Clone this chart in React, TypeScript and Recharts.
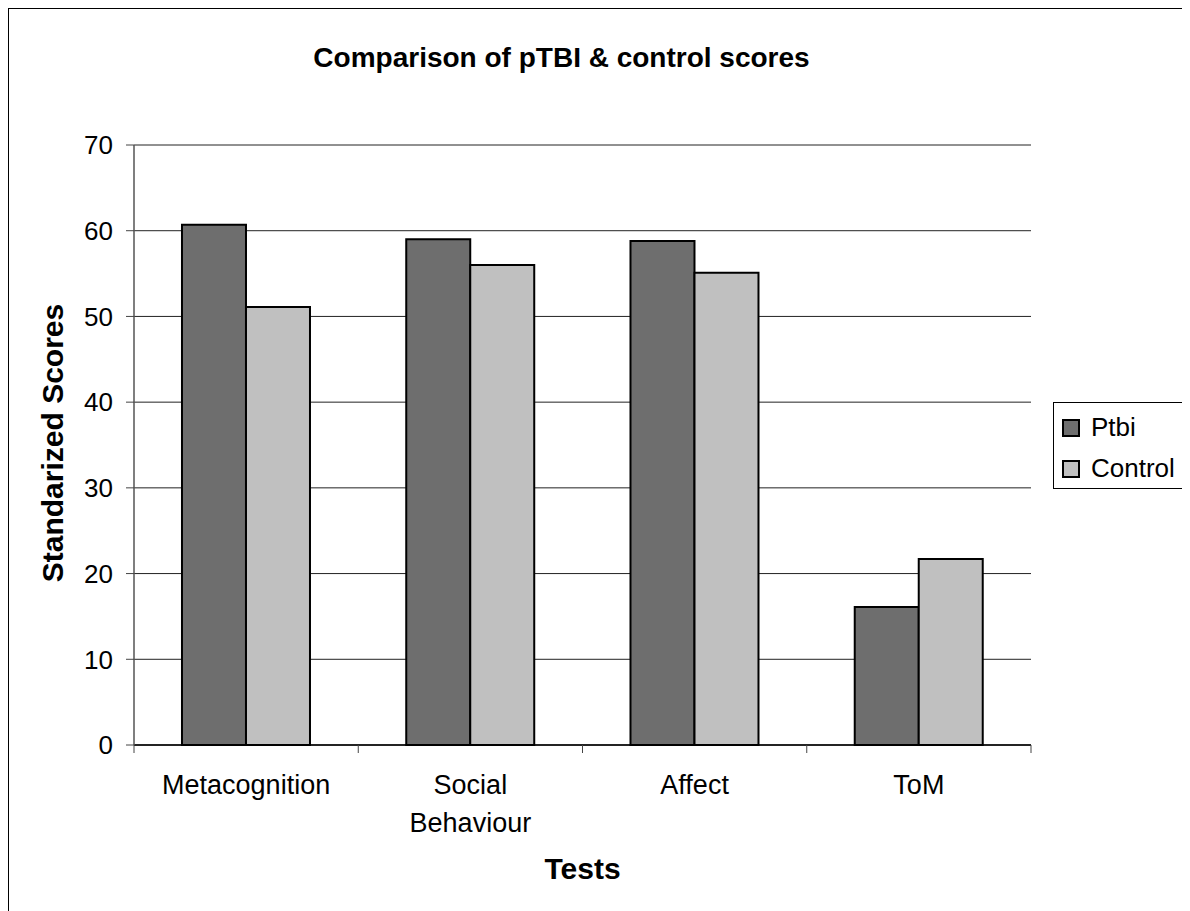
import React from "react";
import { BarChart, Bar, XAxis, YAxis, CartesianGrid } from "recharts";

const categories = ["Metacognition", "Social Behaviour", "Affect", "ToM"];
const ptbiScores = [60.7, 59.0, 58.8, 16.1];
const controlScores = [51.1, 56.0, 55.1, 21.7];
const yTicks = [0, 10, 20, 30, 40, 50, 60, 70];

const series = [
    { key: "ptbi", name: "Ptbi", color: "#6e6e6e" },
    { key: "control", name: "Control", color: "#c0c0c0" },
];

const data = categories.map((name, i) => ({
    name,
    ptbi: ptbiScores[i],
    control: controlScores[i],
}));

const FONT = "Arial, 'Liberation Sans', sans-serif";

function CategoryTick(props: any) {
    const { x, y, payload } = props;
    const half = payload.offset ?? 112;
    const isLast = payload.value === categories[categories.length - 1];
    const lines = String(payload.value).split(" ");
    return (
        <g>
            <line x1={x - half} x2={x - half} y1={y} y2={y + 8} stroke="#444" strokeWidth={1} />
            {isLast && <line x1={x + half} x2={x + half} y1={y} y2={y + 8} stroke="#444" strokeWidth={1} />}
            <text x={x} y={y + 49} textAnchor="middle" fontSize={27} fill="#000" fontFamily={FONT}>
                {lines.map((line, i) => (
                    <tspan key={i} x={x} dy={i === 0 ? 0 : 38}>
                        {line}
                    </tspan>
                ))}
            </text>
        </g>
    );
}

export default function App() {
    return (
        <div
            style={{
                position: "relative",
                width: 1182,
                height: 903,
                boxSizing: "border-box",
                borderLeft: "1px solid #000",
                borderTop: "1px solid #000",
                fontFamily: FONT,
                background: "#fff",
            }}
        >
            {/* Title */}
            <div
                style={{
                    position: "absolute",
                    left: 0,
                    top: 33,
                    width: 1105,
                    textAlign: "center",
                    fontSize: 28,
                    fontWeight: "bold",
                    color: "#000",
                    lineHeight: "32px",
                }}
            >
                Comparison of pTBI &amp; control scores
            </div>

            <BarChart
                width={1181}
                height={902}
                data={data}
                margin={{ top: 136, right: 159, left: 15, bottom: 46 }}
                barCategoryGap="21.4%"
                barGap={0}
            >
                <CartesianGrid vertical={false} stroke="#222" strokeWidth={1} />
                <XAxis xAxisId="top" orientation="top" dataKey="name" height={0} tick={false} tickLine={false} axisLine={{ stroke: "#999", strokeWidth: 1.5 }} />
                <YAxis yAxisId="right" orientation="right" width={0} tick={false} tickLine={false} axisLine={{ stroke: "#999", strokeWidth: 2 }} domain={[0, 70]} />
                <XAxis
                    dataKey="name"
                    height={120}
                    tickLine={false}
                    tickSize={0}
                    tickMargin={0}
                    axisLine={{ stroke: "#000", strokeWidth: 1.5 }}
                    tick={<CategoryTick />}
                    interval={0}
                    label={{
                        content: ({ viewBox }: any) => (
                            <text
                                x={viewBox.x + viewBox.width / 2}
                                y={viewBox.y + 134}
                                textAnchor="middle"
                                fontSize={30}
                                fontWeight="bold"
                                fontFamily={FONT}
                                fill="#000"
                            >
                                Tests
                            </text>
                        ),
                    }}
                />
                <YAxis
                    width={110}
                    domain={[0, 70]}
                    ticks={yTicks}
                    interval={0}
                    tickSize={8}
                    tickMargin={13}
                    tick={{ fontSize: 26, fill: "#000", fontFamily: FONT }}
                    tickLine={{ stroke: "#444" }}
                    axisLine={{ stroke: "#555", strokeWidth: 1.5 }}
                    label={{
                        content: ({ viewBox }: any) => {
                            const cx = viewBox.x + 28;
                            const cy = viewBox.y + viewBox.height / 2 - 2;
                            return (
                                <text
                                    x={cx}
                                    y={cy}
                                    transform={`rotate(-90 ${cx} ${cy})`}
                                    textAnchor="middle"
                                    dominantBaseline="central"
                                    fontSize={30}
                                    fontWeight="bold"
                                    fontFamily={FONT}
                                    fill="#000"
                                >
                                    Standarized Scores
                                </text>
                            );
                        },
                    }}
                />
                {series.map((s) => (
                    <Bar
                        key={s.key}
                        dataKey={s.key}
                        name={s.name}
                        fill={s.color}
                        stroke="#000"
                        strokeWidth={2}
                        isAnimationActive={false}
                    />
                ))}
            </BarChart>

            {/* Legend */}
            <div
                style={{
                    position: "absolute",
                    left: 1044,
                    top: 393,
                    width: 134,
                    height: 87,
                    boxSizing: "border-box",
                    border: "1px solid #000",
                    paddingTop: 4,
                }}
            >
                {series.map((s) => (
                    <div
                        key={s.key}
                        style={{ display: "flex", alignItems: "center", height: 41, paddingLeft: 8 }}
                    >
                        <span
                            style={{
                                display: "inline-block",
                                width: 18,
                                height: 18,
                                boxSizing: "border-box",
                                border: "2px solid #000",
                                background: s.color,
                                marginRight: 11,
                            }}
                        />
                        <span style={{ fontSize: 26, color: "#000" }}>{s.name}</span>
                    </div>
                ))}
            </div>
        </div>
    );
}
